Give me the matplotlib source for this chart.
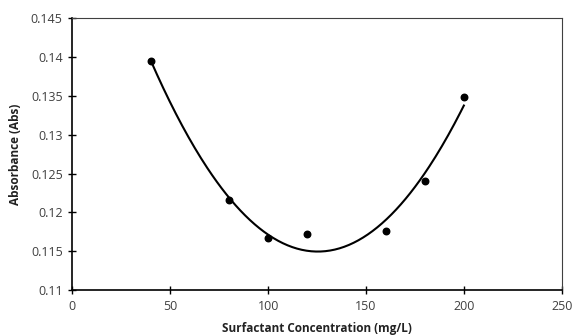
import numpy as np
import matplotlib.pyplot as plt

plt.rcParams["font.family"] = ["Open Sans", "DejaVu Sans"]

conc = [40, 80, 100, 120, 160, 180, 200]
absorb = [0.1395, 0.1216, 0.1167, 0.1172, 0.1176, 0.1240, 0.1349]

xticks = [0, 50, 100, 150, 200, 250]
yticks = [0.11, 0.115, 0.12, 0.125, 0.13, 0.135, 0.14, 0.145]
ytick_labels = ["0.11", "0.115", "0.12", "0.125", "0.13", "0.135", "0.14", "0.145"]

# second order polynomial trendline, like the spreadsheet one
coef = np.polyfit(conc, absorb, 2)
xs = np.linspace(min(conc), max(conc), 200)
ys = np.polyval(coef, xs)

fig = plt.figure(figsize=(5.72, 3.35), dpi=100)
ax = fig.add_axes([0.1266, 0.1343, 0.8554, 0.8107])

ax.plot(xs, ys, color="black", linewidth=1.5, zorder=2)
ax.scatter(conc, absorb, s=22, color="black", zorder=3)

ax.set_xlim(0, 250)
ax.set_ylim(0.11, 0.145)
ax.set_xticks(xticks)
ax.set_yticks(yticks)
ax.set_yticklabels(ytick_labels)
ax.tick_params(direction="inout", length=6, width=1, labelsize=9, colors="#404040")
ax.tick_params(axis="both", color="black")
ax.tick_params(axis="x", pad=4)
ax.tick_params(axis="y", pad=4)

for side in ["left", "bottom"]:
    ax.spines[side].set_linewidth(1.2)
    ax.spines[side].set_color("black")
for side in ["top", "right"]:
    ax.spines[side].set_linewidth(0.8)
    ax.spines[side].set_color("#404040")

ax.set_xlabel("Surfactant Concentration (mg/L)", fontsize=8.5, fontweight="bold",
              color="#222222", labelpad=7)
ax.set_ylabel("Absorbance (Abs)", fontsize=8.5, fontweight="bold", color="#222222",
              labelpad=6)

fig.savefig("out.png", dpi=100)
